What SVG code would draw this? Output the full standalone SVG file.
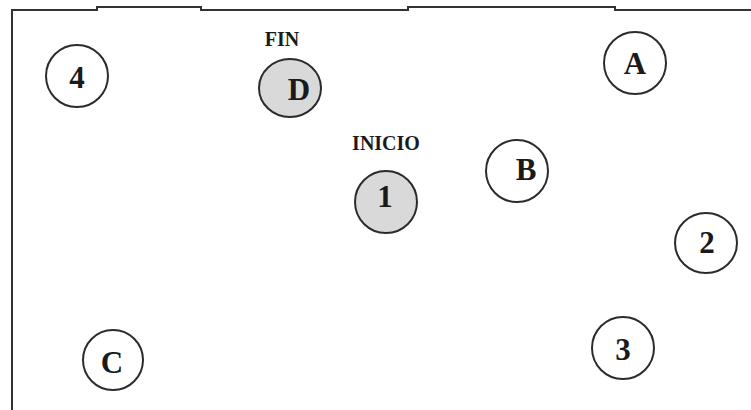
<svg xmlns="http://www.w3.org/2000/svg" width="751" height="410" viewBox="0 0 751 410">
<style>
.node ellipse{stroke:#2b2b2b;stroke-width:2;fill:#ffffff}
.node ellipse.start{fill:#d9d9d9}
.lbl{font-family:"Liberation Serif","Times New Roman",serif;font-weight:bold;font-size:31px;fill:#1a1a1a;text-anchor:middle}
.tag{font-family:"Liberation Serif","Times New Roman",serif;font-weight:bold;font-size:20px;fill:#1a1a1a;text-anchor:middle}
.frame{fill:none;stroke:#333333;stroke-width:2}
</style>
<rect width="751" height="410" fill="#ffffff"/>
<polyline class="frame" points="12,410 12,10 97,10 97,7 201,7 201,10 408,10 408,7 615,7 615,10 751,10"/>
<g id="connectors"></g>
<g id="node-4" class="node"><ellipse cx="77" cy="76" rx="31" ry="31"/><text class="lbl" x="77" y="88">4</text></g>
<g id="node-D" class="node"><text class="tag" x="282" y="46">FIN</text><ellipse class="start" cx="290" cy="88" rx="31" ry="29"/><text class="lbl" x="299" y="100">D</text></g>
<g id="node-A" class="node"><ellipse cx="635" cy="63" rx="31" ry="31"/><text class="lbl" x="635" y="74">A</text></g>
<g id="node-B" class="node"><ellipse cx="517" cy="171" rx="31" ry="31"/><text class="lbl" x="526" y="180">B</text></g>
<g id="node-1" class="node"><text class="tag" x="386" y="150">INICIO</text><ellipse class="start" cx="386" cy="202" rx="31" ry="31"/><text class="lbl" x="385" y="207">1</text></g>
<g id="node-2" class="node"><ellipse cx="706" cy="243" rx="31" ry="30"/><text class="lbl" x="707" y="253">2</text></g>
<g id="node-3" class="node"><ellipse cx="623" cy="348" rx="31" ry="31"/><text class="lbl" x="623" y="360">3</text></g>
<g id="node-C" class="node"><ellipse cx="113" cy="360" rx="30" ry="30"/><text class="lbl" x="112" y="373">C</text></g>
</svg>
